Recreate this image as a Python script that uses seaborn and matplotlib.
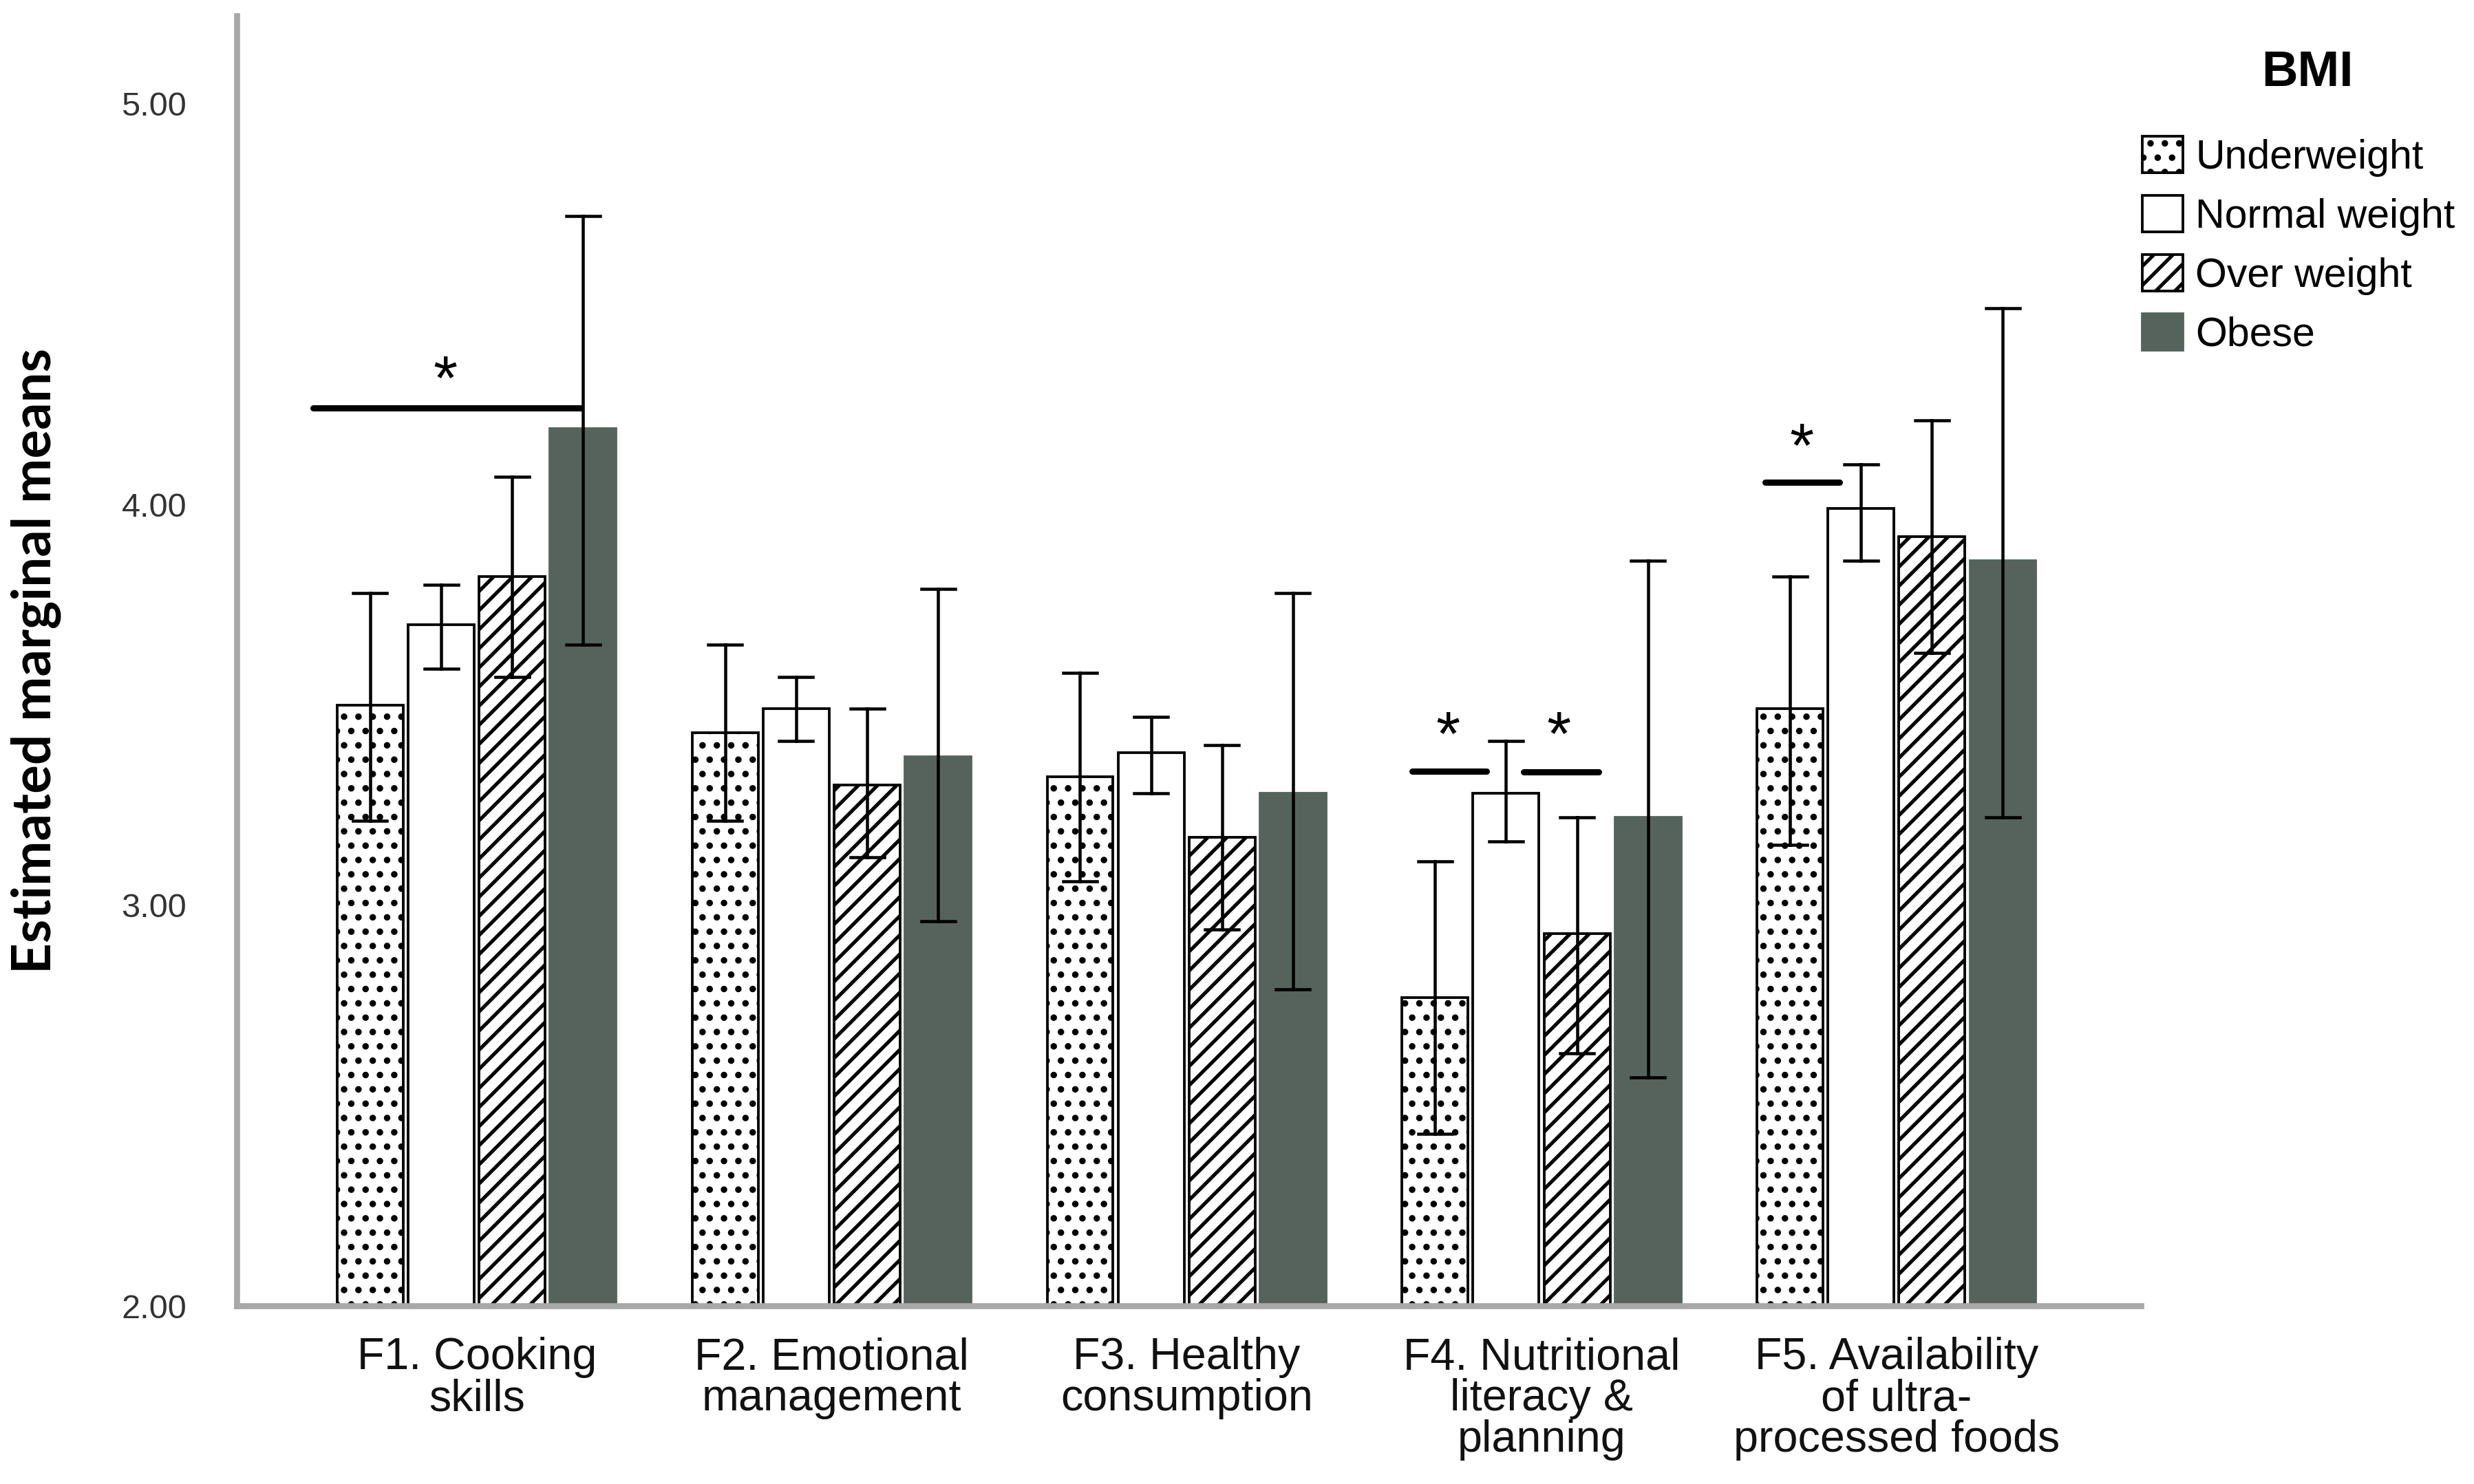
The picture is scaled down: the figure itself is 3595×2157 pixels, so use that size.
import numpy as np
import pandas as pd
import matplotlib
matplotlib.use("Agg")
import matplotlib.pyplot as plt
from matplotlib import font_manager
import seaborn as sns

# ---------------- data ----------------
factors = ["F1. Cooking\nskills", "F2. Emotional\nmanagement", "F3. Healthy\nconsumption",
           "F4. Nutritional\nliteracy &\nplanning", "F5. Availability\nof ultra-\nprocessed foods"]
bmi_levels = ["Underweight", "Normal weight", "Over weight", "Obese"]

underweight_mean = [3.50, 3.43, 3.32, 2.77, 3.49]
underweight_lo   = [3.21, 3.21, 3.06, 2.43, 3.15]
underweight_hi   = [3.78, 3.65, 3.58, 3.11, 3.82]

normal_mean = [3.70, 3.49, 3.38, 3.28, 3.99]
normal_lo   = [3.59, 3.41, 3.28, 3.16, 3.86]
normal_hi   = [3.80, 3.57, 3.47, 3.41, 4.10]

over_mean = [3.82, 3.30, 3.17, 2.93, 3.92]
over_lo   = [3.57, 3.12, 2.94, 2.63, 3.63]
over_hi   = [4.07, 3.49, 3.40, 3.22, 4.21]

obese_mean = [4.19, 3.37, 3.28, 3.22, 3.86]
obese_lo   = [3.65, 2.96, 2.79, 2.57, 3.22]
obese_hi   = [4.72, 3.79, 3.78, 3.86, 4.49]

yticks = [2.0, 3.0, 4.0, 5.0]
ytick_labels = ["2.00", "3.00", "4.00", "5.00"]

# significance brackets (data coords)
sig_x0 = [-0.46, 2.636, 2.949, 3.631]
sig_x1 = [0.293, 2.844, 3.160, 3.840]
sig_y = [4.241, 3.334, 3.332, 4.055]
star_x = [-0.089, 2.736, 3.049, 3.733]
star_y = [4.327, 3.440, 3.440, 4.159]

# ---------------- fonts ----------------
avail = {f.name for f in font_manager.fontManager.ttflist}
def pick(*names):
    for n in names:
        if n in avail:
            return n
    return "DejaVu Sans"
sans = pick("Liberation Sans", "DejaVu Sans")
ylab_font = pick("Lato", "Open Sans", "Liberation Sans")

plt.rcParams["hatch.linewidth"] = 1.5

# ---------------- long-form table ----------------
series = {
    "Underweight": (underweight_lo, underweight_mean, underweight_hi),
    "Normal weight": (normal_lo, normal_mean, normal_hi),
    "Over weight": (over_lo, over_mean, over_hi),
    "Obese": (obese_lo, obese_mean, obese_hi),
}
rows = []
for lvl in bmi_levels:
    lo, mu, hi = series[lvl]
    for i, f in enumerate(factors):
        for v in (lo[i], mu[i], hi[i]):
            rows.append({"factor": f, "BMI": lvl, "value": v})
df = pd.DataFrame(rows)

# ---------------- plot ----------------
fig = plt.figure(figsize=(14.38, 8.628), dpi=250)
ax = fig.add_axes([0.0957, 0.120, 0.7697, 0.8694])

obese_color = "#53655C"
sns.barplot(data=df, x="factor", y="value", hue="BMI", order=factors, hue_order=bmi_levels,
            estimator="median", errorbar=lambda v: (v.min(), v.max()),
            palette=["white", "white", "white", obese_color],
            width=0.8, gap=0.07, capsize=0.38,
            err_kws={"color": "black", "linewidth": 1.3},
            ax=ax, legend=False)

hatches = ["..", "", "///", ""]
edges = ["black", "black", "black", obese_color]
for cont, h, ec in zip(ax.containers, hatches, edges):
    for p in cont.patches:
        p.set_hatch(h)
        p.set_edgecolor(ec)
        p.set_linewidth(1.1)

ax.set_ylim(2.0, 5.22)
ax.set_xlim(-0.676, 4.689)
ax.set_yticks(yticks)
ax.set_yticklabels(ytick_labels, fontsize=14, color="#333333", family=sans)
ax.tick_params(axis="both", length=0)
ax.tick_params(axis="y", pad=21)
ax.tick_params(axis="x", pad=13)
for lab in ax.get_xticklabels():
    lab.set_family(sans)
    lab.set_fontsize(18.6)
    lab.set_linespacing(1.0)
    lab.set_verticalalignment("top")
    lab.set_color("#111111")

for side in ["top", "right"]:
    ax.spines[side].set_visible(False)
for side in ["left", "bottom"]:
    ax.spines[side].set_color("#a8a8a8")
    ax.spines[side].set_linewidth(2.5)

ax.set_xlabel("")
ax.set_ylabel("Estimated marginal means", fontsize=22.5, fontweight="bold", family=ylab_font)
ax.yaxis.set_label_coords(-0.092, 0.5)

# significance marks
for x0, x1, y in zip(sig_x0, sig_x1, sig_y):
    ax.plot([x0, x1], [y, y], color="black", linewidth=2.6, solid_capstyle="round",
            clip_on=False)
for x, y in zip(star_x, star_y):
    ax.annotate("*", xy=(x, y), xytext=(0, -4), textcoords="offset points",
                ha="center", va="center", fontsize=26, family=sans, color="black")

# legend
handles = [c.patches[0] for c in ax.containers]
leg = fig.legend(handles, bmi_levels, loc="upper left", bbox_to_anchor=(0.866, 0.908),
                 bbox_transform=fig.transFigure, frameon=False,
                 handlelength=1.0, handleheight=1.0, handletextpad=0.3,
                 labelspacing=0.46, borderpad=0, borderaxespad=0,
                 prop={"family": sans, "size": 17})
fig.text(0.9327, 0.951, "BMI", ha="center", va="center", fontsize=21,
         fontweight="bold", family=sans)

fig.savefig("out.png", dpi=250, facecolor="white")
